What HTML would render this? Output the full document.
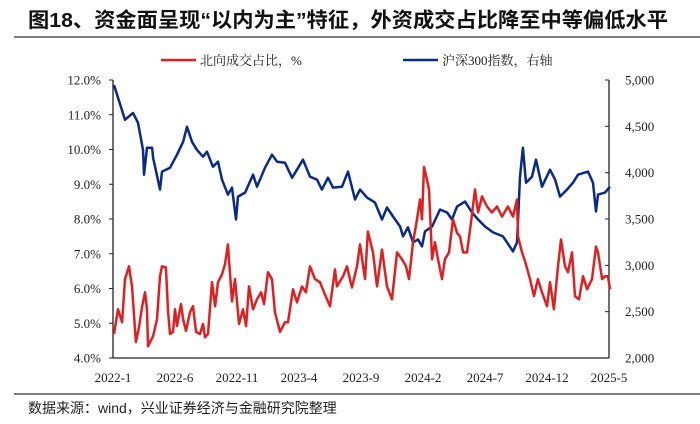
<!DOCTYPE html>
<html><head><meta charset="utf-8">
<style>
html,body{margin:0;padding:0;background:#fff;}
body{width:700px;height:424px;overflow:hidden;position:relative;}
svg{position:absolute;left:0;top:0;}
</style></head>
<body>
<svg id="chart" width="700" height="424" viewBox="0 0 700 424">
<text x="28" y="27" font-family="'Liberation Sans','Noto Sans CJK SC',sans-serif" font-size="20.5" font-weight="bold" fill="#111" textLength="640" lengthAdjust="spacingAndGlyphs">图18、资金面呈现“以内为主”特征，外资成交占比降至中等偏低水平</text>
<line x1="14" y1="37" x2="700" y2="37" stroke="#333" stroke-width="1.2"/>
<g>
<g>
<line x1="161" y1="60" x2="196" y2="60" stroke="#e02020" stroke-width="2.5"/>
<text x="200" y="65" font-family="'Liberation Serif','Noto Serif CJK SC',serif" font-size="13" fill="#222">北向成交占比，%</text>
</g>
<g>
<line x1="403" y1="60" x2="438" y2="60" stroke="#0a2a8a" stroke-width="2.5"/>
<text x="442" y="65" font-family="'Liberation Serif','Noto Serif CJK SC',serif" font-size="13" fill="#222">沪深300指数，右轴</text>
</g>
</g>
<g id="axes"></g>
<g id="series"></g>
<line x1="14" y1="394" x2="700" y2="394" stroke="#333" stroke-width="1.2"/>
<text x="28" y="413" font-family="'Liberation Sans','Noto Sans CJK SC',sans-serif" font-size="14" fill="#222">数据来源：wind，兴业证券经济与金融研究院整理</text>
</svg>
<script>
// months since 2022-01
const redMonths=[0.08,0.4,0.73,0.97,1.29,1.53,1.85,2.1,2.34,2.58,2.74,2.82,3.23,3.55,3.79,3.95,4.27,4.44,4.6,4.84,5.0,5.16,5.48,5.65,5.89,6.21,6.45,6.69,7.02,7.26,7.42,7.66,7.98,8.23,8.47,8.79,9.03,9.27,9.6,9.84,10.16,10.48,10.73,10.97,11.29,11.61,11.94,12.18,12.5,12.82,13.06,13.47,13.87,14.11,14.52,14.84,15.24,15.56,15.89,16.29,16.69,17.02,17.5,17.9,18.06,18.55,18.87,19.27,19.68,19.92,20.32,20.56,20.97,21.29,21.69,22.1,22.5,22.9,23.31,23.63,23.87,24.19,24.52,24.76,24.92,25.08,25.32,25.48,25.73,25.97,26.21,26.53,26.77,27.1,27.42,27.74,27.98,28.23,28.55,28.87,29.19,29.44,29.76,30.16,30.56,30.97,31.37,31.85,32.26,32.58,32.66,32.98,33.23,33.63,33.95,34.27,34.6,35.0,35.24,35.56,35.89,36.13,36.45,36.69,37.02,37.26,37.58,37.9,38.23,38.63,38.95,39.11,39.44,39.68,39.92,40.08];
const redValues=[4.69,5.4,5.03,6.27,6.64,6.06,4.46,4.89,5.46,5.89,5.4,4.34,4.63,5.12,6.35,6.64,6.61,5.32,4.69,4.75,5.4,4.92,5.55,5.12,4.78,5.32,5.49,4.75,4.69,4.98,4.6,4.69,6.18,5.49,6.18,6.41,6.7,7.27,5.63,6.27,4.98,5.4,4.92,6.06,5.4,5.69,5.89,5.55,6.47,6.27,5.32,4.75,5.03,5.03,5.98,5.6,6.06,5.89,6.64,6.27,6.18,5.89,5.49,6.55,6.06,6.35,6.64,6.03,6.64,7.27,6.27,7.64,7.04,6.06,7.12,6.06,5.69,7.04,6.84,6.64,6.27,7.33,7.99,8.56,7.99,9.5,9.13,8.85,6.84,7.33,6.84,6.27,6.84,7.04,7.99,7.6,7.5,7.04,7.04,7.9,8.85,8.19,8.65,8.36,8.19,8.36,8.07,8.36,8.07,8.56,7.5,7.04,6.78,6.27,5.78,6.27,5.89,5.49,6.18,5.4,6.64,7.41,6.64,6.47,7.04,5.78,5.69,6.35,5.98,6.27,7.21,7.04,6.27,6.35,6.35,5.98];
const blueMonths=[0.08,0.97,1.61,2.02,2.42,2.5,2.74,3.15,3.23,3.79,3.95,4.6,5.16,5.65,5.97,6.37,6.77,7.26,7.58,8.06,8.47,8.79,9.27,9.6,9.92,10.08,10.65,11.29,11.61,12.26,12.82,13.23,13.87,14.44,15.32,15.89,16.45,16.85,17.34,17.74,18.47,18.95,19.52,19.92,20.48,21.13,21.69,22.1,22.58,23.15,23.39,23.79,24.19,24.6,24.92,25.16,25.73,26.37,26.94,27.34,27.74,28.39,28.95,29.44,30.0,30.65,31.45,32.26,32.58,32.82,33.06,33.31,33.79,34.11,34.6,35.24,35.65,36.05,36.61,37.1,37.5,38.31,38.71,38.95,39.11,39.68,40.08];
const blueValues=[4946,4570,4645,4538,4247,3978,4269,4269,4161,3817,4011,4054,4194,4333,4495,4333,4247,4172,4226,4064,4118,3925,3763,3839,3495,3742,3785,3978,3849,4054,4194,4118,4107,3946,4140,3957,3925,3817,3946,3839,3849,4011,3710,3817,3731,3677,3495,3624,3527,3419,3312,3409,3247,3280,3204,3366,3419,3602,3570,3495,3634,3688,3570,3495,3419,3355,3312,3150,3247,3957,4269,3892,3957,4140,3849,4032,3925,3742,3817,3892,3978,4011,3892,3581,3763,3785,3849];
const leftTicks=[4,5,6,7,8,9,10,11,12];
const rightTicks=[2000,2500,3000,3500,4000,4500,5000];
const xTickLabels=["2022-1","2022-6","2022-11","2023-4","2023-9","2024-2","2024-7","2024-12","2025-5"];
const xTickMonths=[0,5,10,15,20,25,30,35,40];

const L=113,R=609,T=80,B=358;
const xS=m=>L+m/40*(R-L);
const yL=v=>B-(v-4)/8*(B-T);
const yR=v=>B-(v-2000)/3000*(B-T);
const NS='http://www.w3.org/2000/svg';
const ax=document.getElementById('axes'), se=document.getElementById('series');
function mk(tag,attrs,parent){const e=document.createElementNS(NS,tag);for(const k in attrs)e.setAttribute(k,attrs[k]);parent.appendChild(e);return e;}
const serif="'Liberation Serif','Noto Serif CJK SC',serif";
let e;
e=mk('line',{x1:L,y1:T,x2:L,y2:B,stroke:'#222','stroke-width':1.3},ax);


e=mk('line',{x1:R,y1:T,x2:R,y2:B,stroke:'#222','stroke-width':1.3},ax);


e=mk('line',{x1:L,y1:B,x2:R,y2:B,stroke:'#222','stroke-width':1.3},ax);


leftTicks.forEach(v=>{
  mk('line',{x1:L-4,y1:yL(v),x2:L,y2:yL(v),stroke:'#222','stroke-width':1},ax);
  e=mk('text',{x:L-12,y:yL(v)+4.5,'text-anchor':'end','font-family':serif,'font-size':13,fill:'#222'},ax);
  e.textContent=v.toFixed(1)+'%';
  
  
});
rightTicks.forEach(v=>{
  mk('line',{x1:R-4,y1:yR(v),x2:R,y2:yR(v),stroke:'#222','stroke-width':1},ax);
  e=mk('text',{x:R+16,y:yR(v)+4.5,'text-anchor':'start','font-family':serif,'font-size':13,fill:'#222'},ax);
  e.textContent=v.toLocaleString('en-US');
  
  
});
xTickLabels.forEach((t,i)=>{
  e=mk('text',{x:xS(xTickMonths[i]),y:382,'text-anchor':'middle','font-family':serif,'font-size':13,fill:'#222'},ax);
  e.textContent=t;
  
  
});
function path(ms,vs,ys){return ms.map((m,i)=>(i?'L':'M')+xS(m).toFixed(1)+','+ys(vs[i]).toFixed(1)).join('');}
e=mk('path',{d:path(blueMonths,blueValues,yR),fill:'none',stroke:'#0a2a8a','stroke-width':2.5,'stroke-linejoin':'round'},se);


e=mk('path',{d:path(redMonths,redValues,yL),fill:'none',stroke:'#e02020','stroke-width':2.5,'stroke-linejoin':'round'},se);


</script>
</body></html>
